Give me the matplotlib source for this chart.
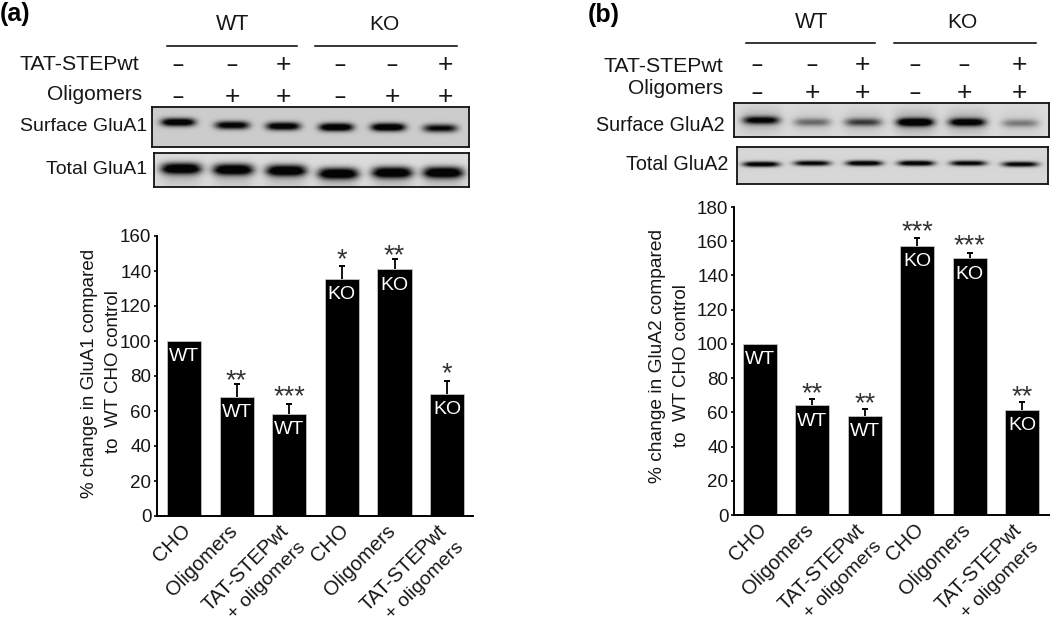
import numpy as np
import matplotlib
matplotlib.use("Agg")
import matplotlib.pyplot as plt
from matplotlib.lines import Line2D
from matplotlib.transforms import ScaledTranslation

plt.rcParams['font.family'] = ['Liberation Sans', 'DejaVu Sans']
W, H = 1050, 624

categories = ['CHO', 'Oligomers', 'TAT-STEPwt\n+ oligomers', 'CHO', 'Oligomers', 'TAT-STEPwt\n+ oligomers']
genotypes = ['WT', 'WT', 'WT', 'KO', 'KO', 'KO']
tat_a = [0, 0, 1, 0, 0, 1]
olig_a = [0, 1, 1, 0, 1, 1]

glua1_values = [100, 68, 58.5, 135.5, 141, 70]
glua1_errors = [0, 7.5, 5.5, 7.5, 6, 7]
glua1_stars = ['', '**', '***', '*', '**', '*']
glua2_values = [100, 64, 58, 157.5, 150, 61.5]
glua2_errors = [0, 4, 4, 4.5, 3, 4.5]
glua2_stars = ['', '**', '**', '***', '***', '**']

# blot band intensities
surf1_strength = [0.95, 0.85, 0.9, 1.0, 1.0, 0.75]
total1_strength = [1.0, 1.0, 1.0, 1.0, 1.0, 1.0]
surf2_strength = [0.75, 0.35, 0.5, 1.0, 0.85, 0.3]
total2_strength = [0.95, 0.85, 0.95, 0.95, 0.85, 0.85]

fig = plt.figure(figsize=(W / 100, H / 100), dpi=100)
INK = '#161616'


def T(x, y, s, **kw):
    kw.setdefault('color', INK)
    kw.setdefault('va', 'center')
    return fig.text(x / W, 1 - y / H, s, **kw)


def box_axes(x0, y0, x1, y1):
    return fig.add_axes([x0 / W, 1 - y1 / H, (x1 - x0) / W, (y1 - y0) / H])


def blot(box, xs, ys, strength, wid, thick, bg, halo=0.0, below=0.0):
    x0, y0, x1, y1 = box
    ax = box_axes(x0, y0, x1, y1)
    X, Y = np.meshgrid(np.arange(x0, x1, 0.5), np.arange(y0, y1, 0.5))
    img = np.full(X.shape, bg, dtype=float)
    for cx, cy, s in zip(xs, ys, strength):
        prof = np.exp(-((X - cx) / wid) ** 4)
        band = prof * np.exp(-((Y - cy) / thick) ** 2)
        img -= 1.1 * s * band
        if halo:
            img -= halo * s * np.exp(-((X - cx) / (wid * 1.15)) ** 4) * np.exp(-((Y - cy) / (thick * 3.2)) ** 2)
        if below:
            img -= below * prof * (Y > cy) * np.exp(-((Y - cy) / 16.0) ** 2)
    ax.imshow(np.clip(img, 0.02, 1), cmap='gray', vmin=0, vmax=1, aspect='auto',
              extent=(x0, x1, y1, y0), interpolation='bilinear')
    ax.set_xticks([])
    ax.set_yticks([])
    for s in ax.spines.values():
        s.set_linewidth(1.3)
        s.set_color('#111111')


def header(xs, row_tat, row_olig, tat, olig):
    for x, t, o in zip(xs, tat, olig):
        for y, v in ((row_tat, t), (row_olig, o)):
            if v:
                T(x, y, '+', ha='center', fontsize=19, va='center_baseline')
            else:
                T(x, y, '\u2013', ha='center', fontsize=14, fontweight='bold', va='center_baseline')


def bars(axbox, xlim, ymax, ystep, values, errors, stars, star_lift):
    ax = box_axes(*axbox)
    x = np.arange(len(values))
    vals = np.array(values, dtype=float)
    tops = vals + np.array(errors)
    ax.bar(x, vals, width=0.65, color='black', edgecolor='#cfcfcf', linewidth=0.5, zorder=2)
    for xi, v, t, e in zip(x, vals, tops, errors):
        if e:
            ax.vlines(xi, v, t, color='black', lw=1.3, zorder=1)
            ax.plot([xi], [t], marker='_', ms=4, mew=1.4, color='black', zorder=1)
    for xi, v, g in zip(x, vals, genotypes):
        ax.annotate(g, (xi, v), xytext=(0, -11.5), textcoords='offset points', color='white',
                    ha='center', va='center', fontsize=14, zorder=3)
    for xi, t, st, lift in zip(x, tops, stars, star_lift):
        if st:
            ax.annotate(st, (xi, t), xytext=(0, -3 + lift * 0.72), textcoords='offset points',
                        color='#333333', ha='center', va='baseline', fontsize=19.5,
                        annotation_clip=False)
    ax.set_xlim(*xlim)
    ax.set_ylim(0, ymax)
    ax.set_yticks(np.arange(0, ymax + 1, ystep))
    ax.tick_params(axis='y', length=2.5, width=1.2, pad=1.5, labelsize=13.5, labelcolor=INK)
    ax.set_xticks(x)
    first_lines = [c.split('\n')[0] for c in categories]
    ax.set_xticklabels(first_lines, rotation=45, ha='right', va='top', rotation_mode='anchor',
                       fontsize=14.5, color=INK)
    ax.tick_params(axis='x', length=0, pad=5)
    dxs = [-3, -9, -10, -3, -9, -10]
    dy = 2
    for lab, dx in zip(ax.get_xticklabels(), dxs):
        lab.set_transform(lab.get_transform() + ScaledTranslation(dx / 100, dy / 100, fig.dpi_scale_trans))
    for xi, c, dx in zip(x, categories, dxs):
        if '\n' in c:
            ax.annotate(c.split('\n')[1], (xi, 0), xycoords=('data', 'axes fraction'),
                        xytext=((dx + 18) * 0.72, -(5 / 0.72 - dy + 18) * 0.72),
                        textcoords='offset points', rotation=45, ha='right', va='top',
                        rotation_mode='anchor', fontsize=14, color=INK, annotation_clip=False)
    for s in ('top', 'right'):
        ax.spines[s].set_visible(False)
    for s in ('left', 'bottom'):
        ax.spines[s].set_linewidth(1.4)
    ax.patch.set_alpha(0)
    return ax


# ---------- panel (a)
T(0, 14, '(a)', fontsize=18, fontweight='bold', ha='left', color='black')
T(233, 25, 'WT', ha='center', fontsize=15.5)
T(384, 24, 'KO', ha='center', fontsize=15)
fig.add_artist(Line2D([167 / W, 297 / W], [1 - 46 / H] * 2, color='black', lw=1.1))
fig.add_artist(Line2D([315 / W, 457 / W], [1 - 46 / H] * 2, color='black', lw=1.1))
T(139, 65, 'TAT-STEPwt', ha='right', fontsize=15.3)
T(142, 95, 'Oligomers', ha='right', fontsize=15)
T(147, 127, 'Surface GluA1', ha='right', fontsize=14)
T(147, 170, 'Total GluA1', ha='right', fontsize=14)
header([178, 232, 283, 340, 392, 445], 63, 95, tat_a, olig_a)
blot((152, 107, 469, 147), [178, 232, 283, 336, 388, 440], [122, 125, 126, 127, 127, 128],
     surf1_strength, 17, 4.0, 0.80)
blot((154, 153, 469, 187), [181, 233, 286, 338, 392, 443], [168, 169, 170, 173, 172, 172],
     total1_strength, 20, 5.5, 0.86, below=0.18)
bars((157, 236, 473, 516), (-0.513, 5.49), 160, 20, glua1_values, glua1_errors, glua1_stars,
     [0, 0, 4, 3, 0, 4])
T(90, 373, '% change in GluA1 compared', rotation=90, ha='center', fontsize=13.5)
T(113, 372, 'to  WT CHO control', rotation=90, ha='center', fontsize=13.5)

# ---------- panel (b)
T(588, 15, '(b)', fontsize=18, fontweight='bold', ha='left', color='black')
T(812, 23, 'WT', ha='center', fontsize=15.5)
T(962, 22, 'KO', ha='center', fontsize=15)
fig.add_artist(Line2D([746 / W, 875 / W], [1 - 43 / H] * 2, color='black', lw=1.1))
fig.add_artist(Line2D([894 / W, 1036 / W], [1 - 43 / H] * 2, color='black', lw=1.1))
T(723, 66, 'TAT-STEPwt', ha='right', fontsize=15.3)
T(723, 89, 'Oligomers', ha='right', fontsize=15)
T(725, 126, 'Surface GluA2', ha='right', fontsize=14.2)
T(728, 164, 'Total GluA2', ha='right', fontsize=14.2)
header([757, 812, 862, 915, 964, 1019], 63, 91, tat_a, olig_a)
blot((734, 103, 1049, 137), [761, 812, 863, 915, 967, 1020], [120, 122, 122, 122, 122, 123],
     surf2_strength, 18, 3.8, 0.86, halo=0.22)
blot((737, 147, 1048, 184), [761, 812, 864, 916, 968, 1020], [164, 163, 163, 163, 163, 164],
     total2_strength, 18, 2.6, 0.84)
bars((734, 207, 1050, 515), (-0.496, 5.53), 180, 20, glua2_values, glua2_errors, glua2_stars,
     [0, 2, 2, 3, 4, 2])
T(657, 356, '% change in GluA2 compared', rotation=90, ha='center', fontsize=13.8)
T(682, 366, 'to  WT CHO control', rotation=90, ha='center', fontsize=13.5)

fig.savefig('out.png', dpi=100)
